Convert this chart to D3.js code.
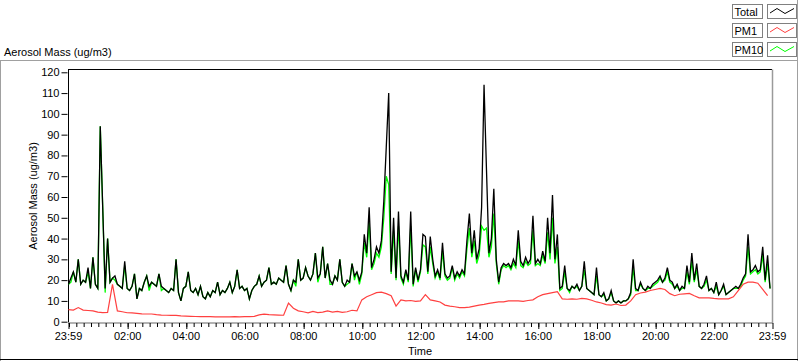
<!DOCTYPE html>
<html><head><meta charset="utf-8">
<script src="https://cdn.jsdelivr.net/npm/d3@7"></script>
<style>
html,body{margin:0;padding:0;background:#fff;}
svg text{font-family:"Liberation Sans",Arial,sans-serif;font-size:11px;fill:#000;}
</style></head>
<body><svg id="c" width="800" height="361"></svg>
<script>
// ---- data (5-minute samples for Total and PM10, 10-minute for PM1) ----
const stepMain = 5;
const stepPM1 = 10;
const totalValues = [
18,21,24,19,30,18,20,19,26,16,31,18,
16,94,55,16,40,19,21,22,18,17,16,29,
16,15,17,23,11,16,15,19,22,17,19,18,
17,23,17,16,15,14,16,15,30,14,10,16,
17,24,15,14,16,13,17,12,11,14,12,15,
14,19,13,15,14,16,19,14,17,25,16,17,
15,16,11,15,17,18,22,17,19,20,26,18,
19,18,21,20,19,27,18,15,20,19,30,20,
21,26,22,20,23,33,21,23,36,21,28,20,
18,22,20,30,19,17,20,19,28,22,24,20,
24,42,33,55,26,30,36,33,39,58,84,110,
24,50,21,53,22,19,25,20,53,18,26,20,
25,42,41,24,41,30,22,25,21,38,23,21,
22,27,21,24,22,25,23,39,52,33,44,30,
35,55,114,73,33,40,64,30,19,26,28,27,
28,26,30,27,44,29,27,31,28,30,51,28,
30,28,34,29,50,33,61,30,42,16,17,27,
16,15,17,16,18,15,17,29,16,15,14,13,
26,13,12,14,10,11,15,10,9,10,9,10,
10,11,14,30,16,15,19,16,15,17,16,18,
19,20,22,19,21,26,20,19,16,18,15,17,
16,27,19,33,20,28,17,16,18,22,15,16,
14,19,13,15,18,13,14,15,16,17,16,18,
21,23,42,24,25,27,24,25,36,20,32,16
];
const pm10Values = [
18,19,24,19,30,18,20,19,24,16,31,18,
16,94,55,14,40,19,21,20,18,17,16,27,
16,15,17,23,11,16,15,19,22,15,19,18,
17,23,15,16,15,14,16,15,30,14,10,16,
17,24,15,14,16,13,17,12,11,14,12,15,
14,19,13,15,14,16,19,14,17,25,16,17,
15,16,11,15,17,18,22,17,19,20,26,18,
19,18,21,20,19,27,18,15,20,17,30,20,
21,26,22,20,23,33,19,23,36,21,28,18,
18,22,20,30,19,17,18,19,28,20,24,18,
23,38,31,48,25,28,33,31,36,50,70,66,
23,44,20,46,21,18,24,19,46,17,25,19,
24,37,36,23,36,28,21,24,20,34,22,20,
21,26,20,23,21,24,22,35,45,31,39,28,
32,46,44,45,31,36,52,28,18,25,27,26,
27,25,28,26,39,27,26,29,27,28,44,27,
28,27,32,28,43,30,50,28,36,15,16,24,
16,14,17,16,17,15,17,25,16,15,14,13,
22,13,12,13,10,11,14,10,9,10,9,10,
10,11,13,26,15,15,18,16,15,16,16,17,
18,19,21,19,20,24,19,18,16,17,15,16,
16,24,18,29,19,25,17,16,17,20,15,16,
14,17,13,15,17,13,14,15,16,16,16,17,
20,22,36,23,24,25,23,24,32,19,28,16
];
const pm1Values = [
5.8,5.6,6.8,5.6,5.4,5.2,
4.6,4.4,4.5,18.0,5.2,4.8,
4.3,4.2,4.0,3.8,3.7,3.7,
3.4,3.2,3.1,3.0,3.0,2.8,
2.7,2.6,2.5,2.4,2.4,2.4,
2.3,2.3,2.3,2.3,2.4,2.3,
2.4,2.4,2.6,3.3,3.6,3.4,
3.3,3.2,3.1,9.0,6.5,5.2,
4.8,4.3,5.0,4.4,4.6,5.2,
4.6,5.0,4.5,4.8,5.5,5.2,
10.5,12.0,13.0,14.0,14.2,13.5,
12.5,7.5,10.5,10.0,10.2,9.8,
10.0,13.0,10.5,10.0,9.5,8.0,
7.5,7.2,6.8,6.8,7.0,7.5,
8.0,8.3,8.8,9.2,9.5,9.5,
10.0,10.0,10.0,9.8,10.2,10.5,
12.0,13.0,13.5,14.0,14.5,11.0,
10.8,11.0,10.8,11.2,11.0,10.3,
9.5,9.0,8.2,8.0,8.5,7.8,
8.0,10.0,13.0,13.8,14.2,15.0,
15.5,16.0,15.5,13.5,12.5,13.2,
13.4,13.6,12.5,11.5,11.5,11.5,
11.2,11.0,11.0,11.0,12.0,15.0,
18.0,19.0,19.0,18.5,15.5,12.5
];
const seriesNames = ["Total","PM1","PM10"];
const seriesColors = ["#000000","#ff4040","#00ff00"];
const yTicks = [0,10,20,30,40,50,60,70,80,90,100,110,120];
const xTickMinutes = [-1,120,240,360,480,600,720,840,960,1080,1200,1320,1439];
const xTickLabels = ["23:59","02:00","04:00","06:00","08:00","10:00","12:00","14:00","16:00","18:00","20:00","22:00","23:59"];
const chartTitle = "Aerosol Mass (ug/m3)";
const yTitle = "Aerosol Mass (ug/m3)";
const xTitle = "Time";

// ---- drawing ----
const svg = d3.select("#c");
const L = 68, R = 772, T = 69.5, B = 322.5;
const x = d3.scaleLinear().domain([-1,1439]).range([L, R]);
const y = d3.scaleLinear().domain([0,120]).range([321.7, 72.3]);

// outer panel lines
svg.append("line").attr("x1",0).attr("x2",797).attr("y1",60.5).attr("y2",60.5).attr("stroke","#a0a0a0");
svg.append("line").attr("x1",797.5).attr("x2",797.5).attr("y1",0).attr("y2",361).attr("stroke","#a0a0a0");
svg.append("line").attr("x1",0.5).attr("x2",0.5).attr("y1",60).attr("y2",361).attr("stroke","#a0a0a0");
svg.append("line").attr("x1",0).attr("x2",798).attr("y1",359.5).attr("y2",359.5).attr("stroke","#000");

svg.append("text").attr("x",4).attr("y",56).text(chartTitle);

// plot frame
svg.append("line").attr("x1",L).attr("x2",R).attr("y1",T).attr("y2",T).attr("stroke","#000");
svg.append("line").attr("x1",L+0.5).attr("x2",L+0.5).attr("y1",T).attr("y2",B).attr("stroke","#000");
svg.append("line").attr("x1",L).attr("x2",R+1).attr("y1",B+0.5).attr("y2",B+0.5).attr("stroke","#9a9a9a").attr("stroke-width",1.5);
svg.append("line").attr("x1",R+0.5).attr("x2",R+0.5).attr("y1",T).attr("y2",B+1).attr("stroke","#9a9a9a").attr("stroke-width",1.5);

const plot = svg.append("g");
const lineGen = d3.line().x(d=>x(d[0])).y(d=>y(d[1]));
const totalData = totalValues.map((v,i)=>[i*stepMain, v]);
const pm10Data = pm10Values.map((v,i)=>[i*stepMain, v]);
const pm1Data = pm1Values.map((v,i)=>[i*stepPM1, v]);
plot.append("path").datum(pm10Data).attr("d",lineGen).attr("fill","none").attr("stroke",seriesColors[2]).attr("stroke-width",1.3);
plot.append("path").datum(totalData).attr("d",lineGen).attr("fill","none").attr("stroke",seriesColors[0]).attr("stroke-width",1.3);
plot.append("path").datum(pm1Data).attr("d",lineGen).attr("fill","none").attr("stroke",seriesColors[1]).attr("stroke-width",1.2);

// y axis
const yAxis = svg.append("g").attr("transform","translate(67.5,0)")
  .call(d3.axisLeft(y).tickValues(yTicks).tickSize(6).tickPadding(2));
yAxis.select(".domain").remove();
yAxis.selectAll("text").attr("font-family","Liberation Sans").attr("font-size",11).attr("fill","#000");
yAxis.selectAll("line").attr("stroke","#000");

// x axis minor ticks
const minor = d3.range(0,1440,15);
const xMinor = svg.append("g").attr("transform","translate(0,323)")
  .call(d3.axisBottom(x).tickValues(minor).tickSize(4).tickFormat(""));
xMinor.select(".domain").remove();
xMinor.selectAll("line").attr("stroke","#000").attr("transform","translate(0.5,0)");
// x axis major ticks with labels
const xAxis = svg.append("g").attr("transform","translate(0,323)")
  .call(d3.axisBottom(x).tickValues(xTickMinutes).tickSize(6).tickPadding(3)
    .tickFormat((d,i)=>xTickLabels[i]));
xAxis.select(".domain").remove();
xAxis.selectAll("line").attr("stroke","#000").attr("transform","translate(0.5,0)");
xAxis.selectAll("text").attr("font-family","Liberation Sans").attr("font-size",11).attr("fill","#000");

svg.append("text").attr("x",(L+R)/2).attr("y",355).attr("text-anchor","middle").text(xTitle);
svg.append("text").attr("transform","translate(37,"+((T+B)/2)+") rotate(-90)").attr("text-anchor","middle").text(yTitle);

// legend
const leg = svg.append("g");
const rowsY = [4,23,42];
seriesNames.forEach((name,i)=>{
  const g = leg.append("g").attr("transform","translate(0,"+rowsY[i]+")");
  g.append("rect").attr("x",732.5).attr("y",0.5).attr("width",30).attr("height",14).attr("fill","#fff").attr("stroke","#808080");
  g.append("text").attr("x",734.5).attr("y",12).attr("font-size",10.5).text(name);
  g.append("rect").attr("x",767.5).attr("y",0.5).attr("width",29).attr("height",14).attr("fill","#fff").attr("stroke","#808080");
  g.append("path").attr("d","M770,9 L777,4.5 L785,9.5 L794,4.5").attr("fill","none").attr("stroke",seriesColors[i]);
});
</script></body></html>
